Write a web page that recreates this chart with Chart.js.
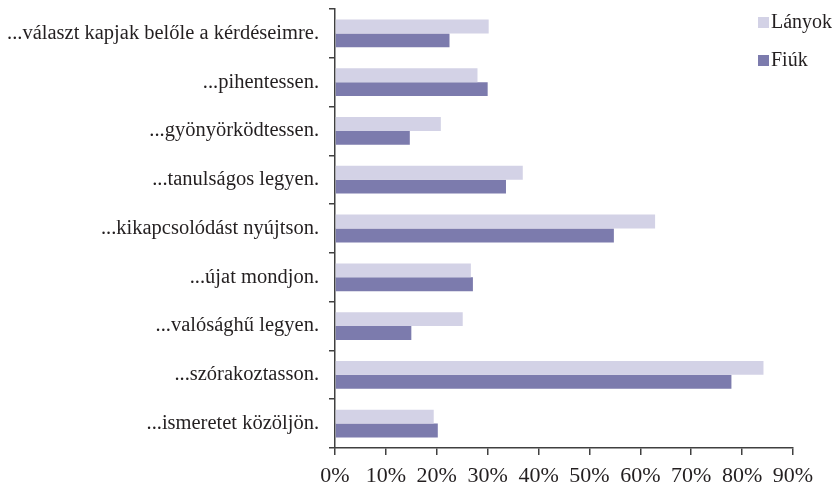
<!DOCTYPE html>
<html>
<head>
<meta charset="utf-8">
<script src="https://cdn.jsdelivr.net/npm/chart.js@4"></script>
<style>
  html, body { margin: 0; padding: 0; background: #fff; }
  #wrap { width: 836px; height: 485px; position: relative; }
</style>
</head>
<body>
<div id="wrap"><canvas id="chart"></canvas></div>
<script>
var categories = [
    "...választ kapjak belőle a kérdéseimre.",
    "...pihentessen.",
    "...gyönyörködtessen.",
    "...tanulságos legyen.",
    "...kikapcsolódást nyújtson.",
    "...újat mondjon.",
    "...valósághű legyen.",
    "...szórakoztasson.",
    "...ismeretet közöljön."
];
var lanyok = [30.2, 28.0, 20.8, 36.9, 62.9, 26.7, 25.1, 84.2, 19.4];
var fiuk = [22.5, 30.0, 14.7, 33.6, 54.8, 27.1, 15.0, 77.9, 20.2];
var xTicks = [0, 10, 20, 30, 40, 50, 60, 70, 80, 90];

var FONT = "'Liberation Serif', 'Times New Roman', serif";
var TEXT_COLOR = "#231f20";
var AXIS_COLOR = "#404040";

// legend drawn by hand so it can sit inside the plot, top right
var sideLegend = {
    id: "sideLegend",
    afterDraw: function (chart) {
        var ctx = chart.ctx;
        var ds = chart.data.datasets;
        ctx.save();
        ctx.font = "20px " + FONT;
        ctx.textBaseline = "middle";
        ctx.textAlign = "left";
        for (var i = 0; i < ds.length; i++) {
            var y = 23 + i * 38;
            ctx.fillStyle = ds[i].backgroundColor;
            ctx.fillRect(758, y - 6, 11, 11);
            ctx.fillStyle = TEXT_COLOR;
            ctx.fillText(ds[i].label, 771, y);
        }
        ctx.restore();
    }
};

new Chart(document.getElementById("chart"), {
    type: "bar",
    data: {
        labels: categories,
        datasets: [
            { label: "Lányok", data: lanyok, backgroundColor: "#d3d2e6" },
            { label: "Fiúk", data: fiuk, backgroundColor: "#7c7bad" }
        ]
    },
    options: {
        indexAxis: "y",
        responsive: true,
        maintainAspectRatio: false,
        animation: false,
        datasets: {
            bar: { categoryPercentage: 0.57, barPercentage: 1.0 }
        },
        layout: { padding: { top: 9, right: 43, left: 0, bottom: 0 } },
        plugins: {
            legend: { display: false },
            tooltip: { enabled: false }
        },
        scales: {
            x: {
                min: 0,
                max: 90,
                afterBuildTicks: function (scale) {
                    scale.ticks = xTicks.map(function (v) { return { value: v }; });
                },
                ticks: {
                    callback: function (v) { return v + "%"; },
                    font: { family: FONT, size: 22 },
                    color: TEXT_COLOR,
                    padding: 8,
                    maxRotation: 0,
                    autoSkip: false
                },
                grid: { drawOnChartArea: false, drawTicks: true, tickLength: 7, color: AXIS_COLOR, lineWidth: 1.5 },
                border: { display: true, color: AXIS_COLOR, width: 1.5 },
                afterFit: function (scale) { scale.height = 37; }
            },
            y: {
                grid: { drawOnChartArea: false, drawTicks: true, tickLength: 6, color: AXIS_COLOR, lineWidth: 1.5, offset: true },
                border: { display: true, color: AXIS_COLOR, width: 1.5 },
                ticks: {
                    font: { family: FONT, size: 20.5 },
                    color: TEXT_COLOR,
                    padding: 10,
                    autoSkip: false
                },
                afterFit: function (scale) {
                    scale.width = 335;
                    scale.paddingTop = 0;
                    scale.paddingBottom = 0;
                }
            }
        }
    },
    plugins: [sideLegend]
});
</script>
</body>
</html>
